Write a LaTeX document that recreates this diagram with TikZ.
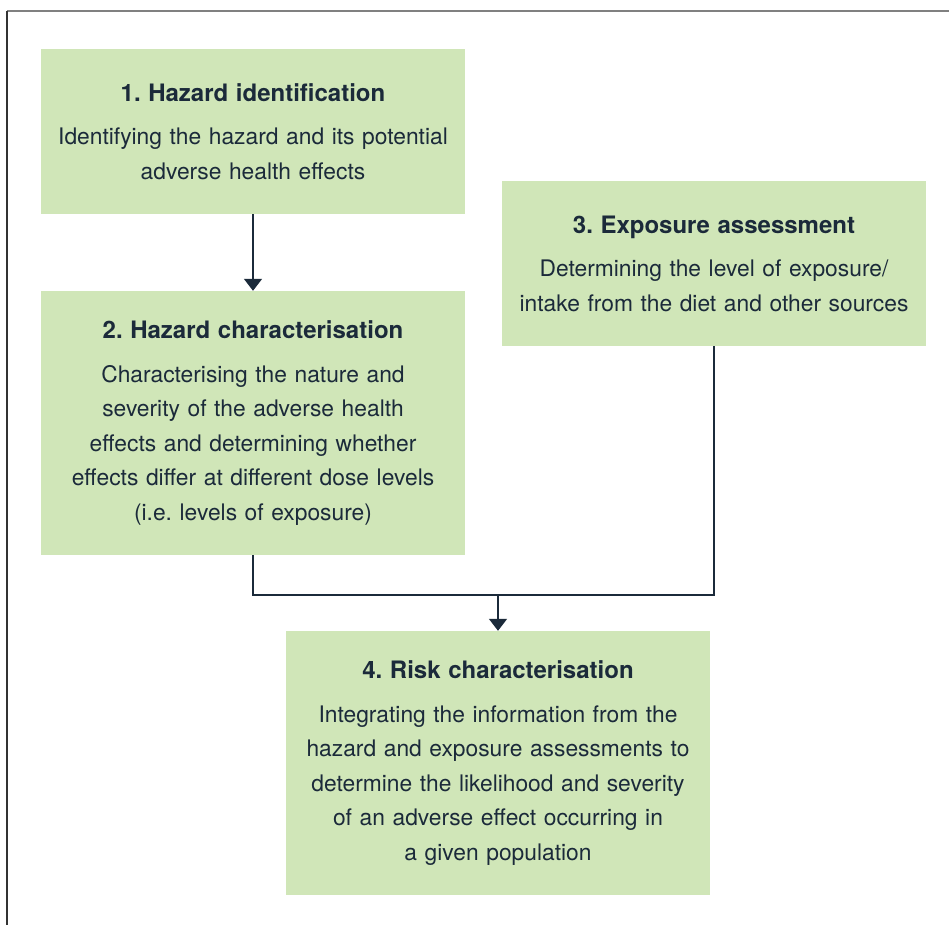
\documentclass[tikz,border=0pt]{standalone}
\usepackage{fontspec}
\setmainfont{TeX Gyre Heros}
\usetikzlibrary{arrows.meta}
\definecolor{boxgreen}{HTML}{D0E6B8}
\definecolor{inkblue}{HTML}{1B2A3A}
\newcommand{\stagetitle}[1]{{\fontsize{24}{34.5}\selectfont\bfseries #1}\\[9pt]}

\begin{document}
\frenchspacing
\begin{tikzpicture}[
        x=1pt, y=-1pt,
        every node/.style={font=\fontsize{22.8}{34.5}\selectfont, text=inkblue},
        stage/.style={
            fill=boxgreen,
            minimum width=424pt,
            text width=414pt,
            align=center,
            inner sep=0pt
        },
        link/.style={draw=inkblue, line width=1.6pt},
        arrow/.style={link, -{Triangle[width=18pt,length=12pt]}}
    ]
    \useasboundingbox (0,0) rectangle (949,925);

    % Frame
    \draw[gray, line width=1.2pt] (7,11) -- (949,11);
    \draw[black!80, line width=1.2pt] (7,11) -- (7,925);

    % Stages
    \node[stage, minimum height=165pt] (hazid) at (253,131.5)
        {\stagetitle{1. Hazard identification}
         Identifying the hazard and its potential\\adverse health effects};
    \node[stage, minimum height=264pt] (hazchar) at (253,423)
        {\stagetitle{2. Hazard characterisation}
         Characterising the nature and\\severity of the adverse health\\effects and determining whether\\effects differ at different dose levels\\(i.e. levels of exposure)};
    \node[stage, minimum height=165pt] (exposure) at (714,263.5)
        {\stagetitle{3. Exposure assessment}
         Determining the level of exposure/\\intake from the diet and other sources};
    \node[stage, minimum height=264pt] (riskchar) at (498,763)
        {\stagetitle{4. Risk characterisation}
         Integrating the information from the\\hazard and exposure assessments to\\determine the likelihood and severity\\of an adverse effect occurring in\\a given population};

    % Connectors
    \coordinate (join) at (498,595);
    \draw[arrow] (hazid.south) -- (hazchar.north);
    \draw[link] (hazchar.south) |- (join) -| (exposure.south);
    \draw[arrow] (join) -- (riskchar.north);

\end{tikzpicture}
\end{document}
